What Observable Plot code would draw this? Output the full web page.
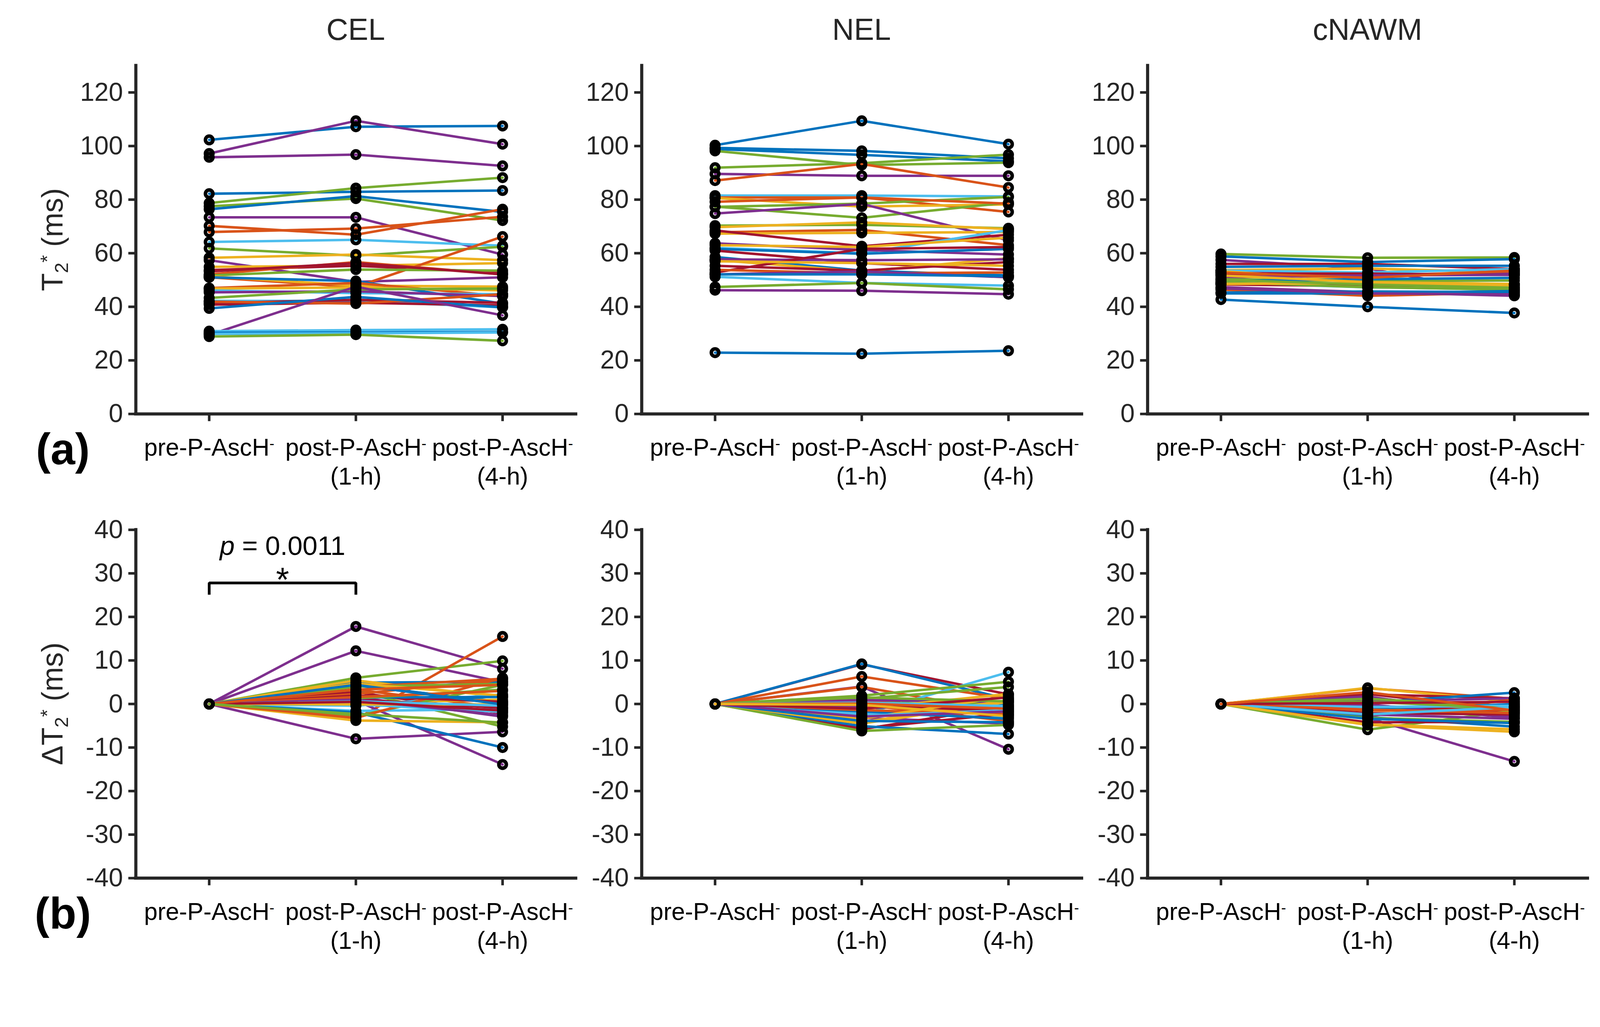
<!DOCTYPE html>
<html>
<head>
<meta charset="utf-8">
<script src="https://cdn.jsdelivr.net/npm/d3@7"></script>
<script src="https://cdn.jsdelivr.net/npm/@observablehq/plot@0.6"></script>
<style>
  html, body { margin: 0; padding: 0; background: #fff; overflow: hidden; }
  #fig { position: relative; width: 4352px; height: 2628px; background: #fff; overflow: hidden; transform-origin: 0 0; }
  #fig > svg { position: absolute; }
</style>
</head>
<body>
<div id="fig"></div>
<script>
// ---------------- DATA ----------------
const regions = ["CEL", "NEL", "cNAWM"];
const rowLabels = ["(a)", "(b)"];
const xTickVals = [1, 2, 3];
const xLabels = ["pre-P-AscH-", "post-P-AscH-\n(1-h)", "post-P-AscH-\n(4-h)"];
const yTicksT2 = [0, 20, 40, 60, 80, 100, 120];
const yTicksDelta = [-40, -30, -20, -10, 0, 10, 20, 30, 40];

// colour groups (MATLAB default colour order)
const palette = {b: "#0072BD", o: "#D95319", y: "#EDB120", p: "#7E2F8E", g: "#77AC30", c: "#4DBEEE", r: "#A2142F"};

// T2* (ms) — CEL
const CEL_grp = ["b","p","p","b","g","g","b","p","o","o","c","g","y","p","y","r","o","o","g","y","r","b","o","y","c","p","g","c","r","r","o","b","p","c","b","c","g"];
const CEL_pre = [102.3,97.2,95.8,82.2,78.7,77.5,76.4,73.4,70.2,67.9,64.2,61.8,58.3,57.4,54.9,53.7,51.0,52.1,51.7,51.4,53.2,51.0,47.0,46.8,46.1,45.4,43.3,42.2,41.3,40.8,41.9,39.4,29.5,30.9,30.3,29.9,28.9];
const CEL_1h  = [107.2,109.4,96.8,82.9,84.3,80.4,81.3,73.4,66.9,69.2,65.0,59.1,59.5,49.3,55.3,55.3,47.4,56.7,53.9,47.9,56.3,49.6,48.9,47.2,45.1,45.8,46.5,42.2,42.6,41.5,41.2,43.7,47.5,31.3,30.4,30.1,29.6];
const CEL_4h  = [107.5,100.7,92.6,83.4,88.2,72.2,75.4,59.5,76.4,73.6,62.8,62.4,57.4,51.0,56.3,52.8,66.2,52.1,53.5,47.5,52.1,41.2,44.0,46.1,44.7,44.0,46.8,39.8,41.5,40.5,44.7,39.8,36.8,31.6,30.6,30.4,27.3];

// T2* (ms) — NEL
const NEL_grp = ["b","b","b","g","g","p","o","c","o","y","g","g","p","o","g","y","o","y","r","c","p","y","b","r","b","y","p","r","r","y","o","p","b","c","g","p","b"];
const NEL_pre = [100.3,99.3,98.9,98.2,91.9,89.6,87.1,81.5,80.8,80.6,77.4,77.3,74.8,79.2,70.3,69.7,67.8,67.3,68.5,62.0,63.7,63.0,61.6,61.0,58.6,57.5,57.7,55.3,52.8,57.0,53.8,52.1,52.1,51.2,47.4,46.2,22.9];
const NEL_1h  = [109.4,98.2,96.7,92.9,93.6,88.9,93.3,81.5,80.8,77.4,73.2,78.5,78.4,80.8,70.6,71.5,68.7,67.6,62.6,60.0,61.2,62.3,59.8,56.3,53.5,53.2,57.4,53.5,61.6,56.3,52.5,53.2,52.1,48.9,48.9,46.0,22.5];
const NEL_4h  = [100.7,95.4,94.3,93.8,96.8,88.9,84.5,81.2,75.4,78.2,78.9,81.0,64.8,78.5,69.3,69.0,63.0,67.9,66.9,68.6,59.5,65.8,61.6,53.8,51.7,58.1,57.7,56.7,62.3,55.3,52.8,51.0,51.4,47.9,46.5,44.7,23.6];

// T2* (ms) — cNAWM
const WM_grp = ["g","b","p","r","b","y","c","p","o","r","y","p","g","b","c","o","r","g","y","p","o","b","b","p","b","o","y","g"];
const WM_pre = [59.7,58.8,57.5,56.0,54.9,53.7,53.5,52.8,51.9,52.4,53.3,51.0,50.3,49.6,48.9,48.7,48.3,49.2,48.5,47.3,46.4,45.3,45.0,46.9,42.7,52.8,51.7,50.1];
const WM_1h  = [58.3,56.7,54.3,56.0,55.3,54.3,52.8,51.9,51.5,52.4,49.6,51.7,49.6,50.3,47.3,48.5,47.8,47.3,48.9,45.5,44.1,45.7,45.0,45.0,40.0,50.8,49.2,48.3];
const WM_4h  = [58.4,57.8,44.3,54.1,55.3,52.8,54.1,52.4,53.3,51.9,48.3,51.9,49.8,50.8,46.4,48.3,46.9,46.4,47.6,44.1,45.3,45.5,45.9,44.6,37.7,53.5,48.5,47.1];

// ΔT2* (ms) — CEL
const dCEL_grp = ["p","p","p","g","o","b","y","b","o","g","o","b","r","o","p","p","y","c","c","b","g","y","o","r","g","c","y","b","r","y","g","o","p","c","b","r","o","g"];
const dCEL_1h = [17.8,12.2,-8.0,6.0,-3.5,4.9,5.4,4.4,3.9,3.0,3.3,4.2,2.7,2.3,1.6,0.8,0.2,-0.4,-1.6,-1.9,-2.8,-3.8,-3.2,1.9,4.0,-0.1,4.7,1.5,1.0,-0.1,1.3,1.6,1.0,0.6,4.4,0.5,3.3,-2.3];
const dCEL_4h = [8.1,5.0,-6.4,9.9,15.5,5.1,1.6,0.3,5.8,-5.2,-0.9,0.5,-2.1,5.6,-2.9,-13.9,1.0,2.2,-1.2,-10.0,4.4,-4.2,6.0,0.5,4.6,-1.8,1.9,1.6,-0.9,-0.1,3.3,3.0,-2.6,-0.4,-0.1,-1.5,4.4,-4.3];

// ΔT2* (ms) — NEL
const dNEL_grp = ["r","b","o","p","o","c","g","g","g","g","o","p","y","b","p","c","p","y","r","r","b","g","y","o","r","b","o","y","c","g","b","p","r","c","o","y"];
const dNEL_1h = [9.1,9.2,6.3,4.0,3.9,-2.4,1.9,1.2,0.2,0.6,0.8,0.9,-1.1,-0.9,-0.5,-2.2,-3.2,-4.2,-5.6,-5.8,-5.1,-6.2,-4.5,-0.2,-0.2,-1.7,-1.4,-3.4,-2.7,1.5,-3.9,-2.9,-1.1,0.3,0.1,-0.2];
const dNEL_4h = [2.2,1.1,1.2,-10.4,-1.9,7.3,5.1,3.9,0.1,-0.8,-2.5,0.5,2.3,-0.2,-1.1,-3.1,-4.5,0.9,-2.2,-0.5,-6.9,-4.8,0.5,-3.9,-1.7,-3.4,-2.4,1.8,-1.4,0.6,-4.2,-1.7,1.5,-0.5,-1.1,-2.8];

// ΔT2* (ms) — cNAWM
const dWM_grp = ["o","y","r","r","p","b","p","g","c","g","o","r","y","g","b","p","r","g","o","p","b","c","y","r","g","o","p","b","c","y","r","o"];
const dWM_1h = [3.6,3.7,2.2,2.3,1.7,0.3,0.6,1.2,-1.5,-1.0,-2.8,-0.4,-4.8,-5.9,-3.0,-3.2,-4.2,-3.2,-1.5,-0.1,-1.0,-0.7,-2.1,-2.1,0.5,-1.3,-2.4,-3.4,-2.4,-4.7,0.2,2.7];
const dWM_4h = [1.2,0.5,1.3,-1.4,-2.8,2.6,1.3,-0.7,0.0,-0.7,1.0,-1.8,-6.4,-1.5,-5.2,-13.2,-4.1,-4.1,-1.3,-3.2,-0.1,-0.4,-2.0,-2.4,-1.0,-2.1,-3.4,-4.4,-0.7,-5.8,0.5,-1.5];

// significance annotation (CEL, pre vs 1-h)
const sigPair = [1, 2];
const sigBracketY = 27.8;
const sigFootY = 25.1;
const sigLabel = "p = 0.0011";
const sigLabelY = 34.2;
const sigStar = "*";
const sigStarY = 25.9;

// ---------------- LAYOUT ----------------
const FONT = "'Liberation Sans', Arial, Helvetica, sans-serif";
const AX = "#262626";
const AXW = 1197, STEP = 1376, AXL0 = 369;
const ML = 200, MR = 230, MT = 178, PH = 947, MB = 250;
const ROW_TOP = [0, 1262];
const xDomain = [0.5, 3.5];

function rowsOf(grp, a, b, c) {
  const rows = [];
  grp.forEach((g, i) => {
    [a[i], b[i], c[i]].forEach((v, k) => rows.push({s: i, t: xTickVals[k], v, c: palette[g]}));
  });
  return rows;
}

function makePanel(rows, yDomain, yTicks, extra = []) {
  return Plot.plot({
    width: ML + AXW + MR,
    height: MT + PH + MB,
    marginLeft: ML, marginRight: MR, marginTop: MT, marginBottom: MB,
    x: {domain: xDomain},
    y: {domain: yDomain},
    color: {type: "identity"},
    style: `background: transparent; overflow: visible; font-family: ${FONT};`,
    marks: [
      Plot.axisY({ticks: yTicks, tickSize: 20, tickPadding: 15, fontSize: 70, strokeWidth: 7,
                  stroke: AX, fill: AX, tickFormat: d => String(d), label: null}),
      Plot.axisX({ticks: xTickVals, tickSize: 20, tickPadding: 37, fontSize: 66, strokeWidth: 7,
                  stroke: AX, fill: "#000", lineHeight: 1.2, tickFormat: d => xLabels[d - 1], label: null}),
      Plot.ruleX([xDomain[0]], {stroke: AX, strokeWidth: 8.5, strokeLinecap: "square"}),
      Plot.ruleY([yDomain[0]], {stroke: AX, strokeWidth: 8.5, strokeLinecap: "square"}),
      Plot.line(rows, {x: "t", y: "v", z: "s", stroke: "c", strokeWidth: 6.7}),
      Plot.dot(rows, {x: "t", y: "v", r: 10.2, stroke: "#000", strokeWidth: 9.6, fill: "none"}),
      ...extra
    ]
  });
}

const NS = "http://www.w3.org/2000/svg";
function fixText(svg) {
  svg.querySelectorAll("text, tspan").forEach(el => {
    if (el.children.length) return;
    const t = el.textContent;
    if (t.endsWith("AscH-")) {
      el.textContent = t.slice(0, -1);
      const s = document.createElementNS(NS, "tspan");
      s.setAttribute("font-size", "40");
      s.setAttribute("baseline-shift", "20");
      s.textContent = "-";
      el.appendChild(s);
    } else if (t === sigLabel) {
      el.textContent = "";
      const it = document.createElementNS(NS, "tspan");
      it.setAttribute("font-style", "italic");
      it.textContent = sigLabel.slice(0, 1);
      el.appendChild(it);
      el.appendChild(document.createTextNode(sigLabel.slice(1)));
    }
  });
}

const fig = document.getElementById("fig");

const topData = [
  rowsOf(CEL_grp, CEL_pre, CEL_1h, CEL_4h),
  rowsOf(NEL_grp, NEL_pre, NEL_1h, NEL_4h),
  rowsOf(WM_grp, WM_pre, WM_1h, WM_4h)
];
const zerosLike = a => a.map(() => 0);
const botData = [
  rowsOf(dCEL_grp, zerosLike(dCEL_1h), dCEL_1h, dCEL_4h),
  rowsOf(dNEL_grp, zerosLike(dNEL_1h), dNEL_1h, dNEL_4h),
  rowsOf(dWM_grp, zerosLike(dWM_1h), dWM_1h, dWM_4h)
];

const bracket = [
  {x: sigPair[0], y: sigFootY}, {x: sigPair[0], y: sigBracketY},
  {x: sigPair[1], y: sigBracketY}, {x: sigPair[1], y: sigFootY}
];
const sigMid = (sigPair[0] + sigPair[1]) / 2;
const sigMarks = [
  Plot.line(bracket, {x: "x", y: "y", stroke: "#000", strokeWidth: 7.5, strokeLinejoin: "miter", strokeLinecap: "butt"}),
  Plot.text([sigLabel], {x: sigMid, y: sigLabelY, text: d => d, fontSize: 73, lineAnchor: "bottom", fill: "#000"}),
  Plot.text([sigStar], {x: sigMid, y: sigStarY, text: d => d, fontSize: 92, lineAnchor: "bottom", fill: "#000"})
];

regions.forEach((name, i) => {
  const left = AXL0 + i * STEP - ML;
  const top = makePanel(topData[i], [0, 130], yTicksT2);
  top.style.left = left + "px"; top.style.top = ROW_TOP[0] + "px";
  fixText(top);
  fig.appendChild(top);
  const bot = makePanel(botData[i], [-40, 40], yTicksDelta, i === 0 ? sigMarks : []);
  bot.style.left = left + "px"; bot.style.top = ROW_TOP[1] + "px";
  fixText(bot);
  fig.appendChild(bot);
});

// ---------------- overlay text: titles, panel letters, y-axis labels ----------------
const ov = d3.create("svg").attr("width", 4352).attr("height", 2628)
  .style("left", "0px").style("top", "0px").style("overflow", "visible")
  .attr("font-family", FONT);

regions.forEach((name, i) => {
  ov.append("text").attr("x", AXL0 + i * STEP + AXW / 2).attr("y", 108)
    .attr("text-anchor", "middle").attr("font-size", 82).attr("fill", AX).text(name);
});
rowLabels.forEach((lab, r) => {
  ov.append("text").attr("x", 171).attr("y", ROW_TOP[r] + 1262)
    .attr("text-anchor", "middle").attr("font-size", 120).attr("font-weight", "bold")
    .attr("fill", "#000").text(lab);
});
const yLabelPrefix = ["", "Δ"];
yLabelPrefix.forEach((pre, r) => {
  const t = ov.append("text")
    .attr("transform", `translate(170,${ROW_TOP[r] + MT + PH / 2}) rotate(-90)`)
    .attr("text-anchor", "middle").attr("font-size", 80).attr("fill", AX);
  t.append("tspan").text(pre + "T");
  t.append("tspan").attr("font-size", 52).attr("baseline-shift", -15).text("2");
  t.append("tspan").attr("font-size", 52).attr("baseline-shift", 24).text("*");
  t.append("tspan").text(" (ms)");
});
fig.appendChild(ov.node());

// fit the 4352×2628 figure into the actual viewport
function fit() {
  const s = Math.min(window.innerWidth / 4352, window.innerHeight / 2628);
  fig.style.transform = s < 0.999 ? `scale(${s})` : "none";
}
fit();
window.addEventListener("resize", fit);
</script>
</body>
</html>
